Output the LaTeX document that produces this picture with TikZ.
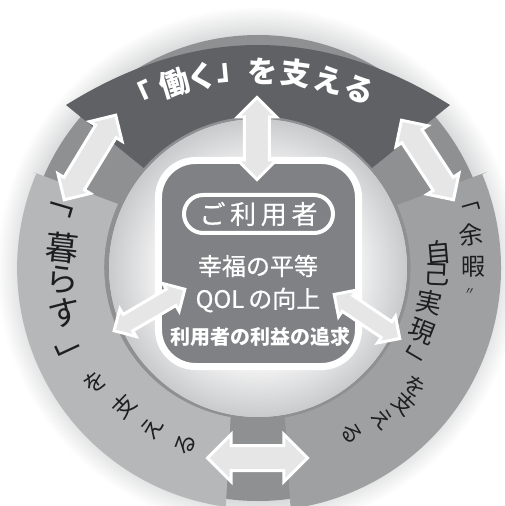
\documentclass[tikz,border=0pt]{standalone}
\usepackage{fontspec}
\setmainfont{Noto Sans CJK JP}
\usetikzlibrary{shapes.arrows}

\definecolor{workgray}{HTML}{5F6164}
\definecolor{lifegray}{HTML}{B5B7B9}
\definecolor{leisuregray}{HTML}{9EA0A2}
\definecolor{ringgray}{HTML}{8E9092}
\definecolor{boxgray}{HTML}{7F8184}
\definecolor{arrowgray}{HTML}{E6E6E6}
\definecolor{inkgray}{HTML}{1E1E1E}
\definecolor{halogray}{HTML}{D6D7D8}
\definecolor{hubedge}{HTML}{C9CACC}

\pgfdeclareradialshading{haloshade}{\pgfpointorigin}{color(0bp)=(halogray); color(22bp)=(halogray); color(25bp)=(white); color(50bp)=(white)}
\pgfdeclareradialshading{hubshade}{\pgfpointorigin}{color(0bp)=(white); color(14bp)=(white); color(25bp)=(hubedge); color(50bp)=(hubedge)}

\begin{document}
\begin{tikzpicture}[
    x=1pt, y=1pt,
    twoway/.style={double arrow, draw=white, line width=3pt, fill=arrowgray, inner xsep=0pt},
    worktext/.style={text=white, inner sep=0pt, font=\bfseries\fontsize{30pt}{30pt}\selectfont},
    lifebig/.style={text=inkgray, inner sep=0pt, font=\fontsize{33pt}{33pt}\selectfont},
    lifesmall/.style={text=inkgray, inner sep=0pt, font=\fontsize{23pt}{23pt}\selectfont},
    leisureout/.style={text=inkgray, inner sep=0pt, font=\fontsize{24pt}{24pt}\selectfont},
    leisurein/.style={text=inkgray, inner sep=0pt, font=\fontsize{26pt}{26pt}\selectfont},
    leisuretail/.style={text=inkgray, inner sep=0pt, font=\fontsize{22pt}{22pt}\selectfont},
    hubtext/.style={text=white, inner sep=0pt}]
\useasboundingbox (-258,-238) rectangle (246,268);

% halo, base ring and inner disc
\shade[shading=haloshade] (0,0) circle (262);
\path[fill=ringgray, even odd rule] (0,0) circle (233) (0,0) circle (149);
\shade[shading=hubshade] (0,0) circle (149);

% the three segments
\path[fill=workgray] (-192,163) .. controls (-64,243) and (64,243) .. (192,163)
    -- (114,100) arc[start angle=41.3, end angle=138.7, radius=152] -- cycle;
\path[fill=lifegray] (-225,96) -- (-140,64) arc[start angle=155.4, end angle=260.3, radius=152]
    -- (-32.2,-238.8) arc[start angle=262.3, end angle=156.9, radius=241] -- cycle;
\path[fill=leisuregray] (229,96) -- (139,63) arc[start angle=24.4, end angle=-80, radius=152]
    -- (32.6,-240.8) arc[start angle=-82.3, end angle=22.7, radius=243] -- cycle;

% arrows between the segments
\node[twoway, inner ysep=10.5pt, double arrow head extend=7pt, minimum height=99pt, rotate=58.7] (arWorkLife) at (-168,110.5) {};
\node[twoway, inner ysep=10.5pt, double arrow head extend=7pt, minimum height=95pt, rotate=-56.8] (arWorkLeisure) at (169.5,108) {};
\node[twoway, inner ysep=11pt, double arrow head extend=11pt, minimum height=100pt] (arLifeLeisure) at (-0.5,-190) {};

% the user in the middle
\node[rectangle, rounded corners=37pt, fill=boxgray, draw=white, line width=7pt,
    minimum width=200pt, minimum height=206pt] (hubBox) at (0.5,4.5) {};
\node[rectangle, rounded corners=19pt, fill=boxgray, draw=white, line width=4pt,
    minimum width=149pt, minimum height=38pt, text=white,
    font=\fontsize{26pt}{26pt}\selectfont\addfontfeature{LetterSpace=18,FakeBold=0.6}] (hubPill) at (0.5,54) {ご利用者};
\node[hubtext, font=\fontsize{24pt}{24pt}\selectfont\addfontfeature{FakeBold=0.8}] (hubHappy) at (0,2) {幸福の平等};
\node[hubtext, font=\fontsize{24pt}{24pt}\selectfont\addfontfeature{FakeBold=0.8}] (hubQol) at (0,-32) {QOL\,の向上};
\node[hubtext, font=\bfseries\fontsize{20pt}{20pt}\selectfont] (hubBenefit) at (3,-69) {利用者の利益の追求};

% arrows from the user
\node[twoway, inner ysep=11pt, double arrow head extend=7pt, minimum height=82pt, rotate=90] (arHubWork) at (-1,129.5) {};
\node[twoway, inner ysep=8pt, double arrow head extend=6.5pt, minimum height=82pt, rotate=30.4] (arHubLife) at (-108.5,-42) {};
\node[twoway, inner ysep=8pt, double arrow head extend=6.5pt, minimum height=79pt, rotate=-33.9] (arHubLeisure) at (109,-48.5) {};

% ring labels
\begin{scope}[shift={(0,-90)}]
\foreach \ch/\ang [count=\i] in {「/114.6,働/107,く/101.3,」/95.3,を/89,支/82.4,え/75.8,る/69.3}
    \node[worktext, rotate=\ang-90] (work\i) at (\ang:287) {\ch};
\end{scope}
\foreach \ch/\ang/\rad [count=\i] in {﹁/163.6/210,暮/174/197,ら/183.5/196,す/193/198,﹂/204.9/202}
    \node[lifebig, rotate=\ang-180] (life\i) at (\ang:\rad) {\ch};
\foreach \ch/\ang/\rad [count=\i] in {を/214.8/199,支/226/192,え/236.5/192,る/247.5/191}
    \node[lifesmall, rotate=\ang-180] (lifeTail\i) at (\ang:\rad) {\ch};
\foreach \ch/\ang/\rad [count=\i] in {﹁/15.8/219,余/8.8/216,暇/0.3/215}
    \node[leisureout, rotate=\ang] (leisureOut\i) at (\ang:\rad) {\ch};
\node[text=inkgray, inner sep=0pt, font=\fontsize{11pt}{11pt}\selectfont, rotate=-6.5] (leisureMark) at (-6.5:213) {〃};
\foreach \ch/\ang/\rad [count=\i] in {自/5/181,己/-2.2/179,実/-11.2/175,現/-21.3/176,﹂/-30.6/183}
    \node[leisurein, rotate=\ang] (leisureIn\i) at (\ang:\rad) {\ch};
\foreach \ch/\ang/\rad [count=\i] in {を/-36.8/197,支/-43/200,え/-50.5/196,る/-60.5/190}
    \node[leisuretail, rotate=\ang] (leisureTail\i) at (\ang:\rad) {\ch};

\end{tikzpicture}
\end{document}
